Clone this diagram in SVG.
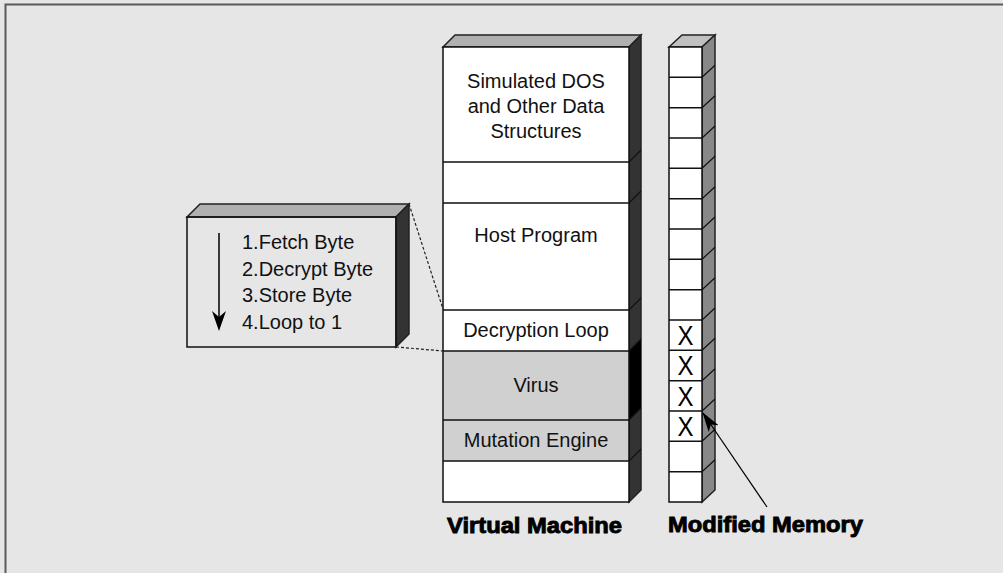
<svg xmlns="http://www.w3.org/2000/svg" width="1003" height="573" viewBox="0 0 1003 573">
<defs>
<style>
.t{font-family:"Liberation Sans",Arial,sans-serif;font-size:20px;fill:#111;text-anchor:middle}
.tl{font-family:"Liberation Sans",Arial,sans-serif;font-size:20px;fill:#111}
.b{font-family:"Liberation Sans",Arial,sans-serif;font-size:22px;font-weight:bold;fill:#000;stroke:#000;stroke-width:0.9}
.x{font-family:"Liberation Sans",Arial,sans-serif;font-size:27px;fill:#000;text-anchor:middle}
.edge{stroke:#111;stroke-width:1.5;fill:none}
.face{stroke:#222;stroke-width:1.5}
.dot{stroke:#222;stroke-width:1.2;stroke-dasharray:3,2;fill:none}
</style>
<marker id="ah" viewBox="0 0 20 12" refX="19" refY="6" markerWidth="20" markerHeight="12" markerUnits="userSpaceOnUse" orient="auto">
<path d="M0,0 L20,6 L0,12 L5,6 Z" fill="#000"/>
</marker>
</defs>
<rect x="0" y="0" width="1003" height="573" fill="#e6e6e6"/>
<path d="M5.5,573 L5.5,4.5 L1003,4.5" stroke="#5a5a5a" stroke-width="2" fill="none"/>

<g id="virtual-machine">
<polygon points="443,47 455,35 641,35 629,47" fill="#b0b0b0" class="face"/>
<polygon points="629,47 641,35 641,490 629,502" fill="#333" class="face"/>
<polygon points="629,351 641,339 641,408 629,420" fill="#000"/>
<rect x="443" y="47" width="186" height="304" fill="#fff"/>
<rect x="443" y="351" width="186" height="110" fill="#d0d0d0"/>
<rect x="443" y="461" width="186" height="41" fill="#fff"/>
<path class="edge" d="M443,162 H629 M443,203 H629 M443,310 H629 M443,351 H629 M443,420 H629 M443,461 H629"/>
<path d="M629,162 l12,-12 M629,203 l12,-12 M629,310 l12,-12 M629,351 l12,-12 M629,420 l12,-12 M629,461 l12,-12" stroke="#111" stroke-width="1.2"/>
<rect x="443" y="47" width="186" height="455" class="edge"/>
<text class="t" x="536" y="88">Simulated DOS</text>
<text class="t" x="536" y="113">and Other Data</text>
<text class="t" x="536" y="138">Structures</text>
<text class="t" x="536" y="242">Host Program</text>
<text class="t" x="536" y="337">Decryption Loop</text>
<text class="t" x="536" y="392">Virus</text>
<text class="t" x="536" y="447">Mutation Engine</text>
<text class="b" x="447" y="533" textLength="175" lengthAdjust="spacingAndGlyphs">Virtual Machine</text>
</g>

<g id="modified-memory">
<polygon points="669,47 682,35 715,35 702,47" fill="#c0c0c0" class="face"/>
<polygon points="702,47 715,35 715,490 702,502" fill="#888" class="face"/>
<rect x="669" y="47" width="33" height="455" fill="#fff"/>
<path class="edge" d="M669,77.3 H702 M669,107.7 H702 M669,138 H702 M669,168.3 H702 M669,198.7 H702 M669,229 H702 M669,259.3 H702 M669,289.7 H702 M669,320 H702 M669,350.3 H702 M669,380.7 H702 M669,411 H702 M669,441.3 H702 M669,471.7 H702"/>
<path d="M702,77.3 l13,-12 M702,107.7 l13,-12 M702,138 l13,-12 M702,168.3 l13,-12 M702,198.7 l13,-12 M702,229 l13,-12 M702,259.3 l13,-12 M702,289.7 l13,-12 M702,320 l13,-12 M702,350.3 l13,-12 M702,380.7 l13,-12 M702,411 l13,-12 M702,441.3 l13,-12 M702,471.7 l13,-12" stroke="#111" stroke-width="1.2"/>
<rect x="669" y="47" width="33" height="455" class="edge"/>
<text class="x" x="685.5" y="345" textLength="16" lengthAdjust="spacingAndGlyphs">X</text>
<text class="x" x="685.5" y="375.3" textLength="16" lengthAdjust="spacingAndGlyphs">X</text>
<text class="x" x="685.5" y="405.7" textLength="16" lengthAdjust="spacingAndGlyphs">X</text>
<text class="x" x="685.5" y="436" textLength="16" lengthAdjust="spacingAndGlyphs">X</text>
<text class="b" x="668" y="532" textLength="195" lengthAdjust="spacingAndGlyphs">Modified Memory</text>
</g>

<g id="decryption-steps">
<polygon points="187,217 200,204 409,204 396,217" fill="#b0b0b0" class="face"/>
<polygon points="396,217 409,204 409,334 396,347" fill="#333" class="face"/>
<rect x="187" y="217" width="209" height="130" fill="#fff" class="edge"/>
<line x1="219" y1="233" x2="219" y2="318" stroke="#000" stroke-width="1.5"/>
<polygon points="212,311 219,317 226,311 219,331" fill="#000"/>
<text class="tl" x="242" y="249">1.Fetch Byte</text>
<text class="tl" x="242" y="276">2.Decrypt Byte</text>
<text class="tl" x="242" y="302">3.Store Byte</text>
<text class="tl" x="242" y="329">4.Loop to 1</text>
</g>

<g id="connectors">
<line class="dot" x1="409" y1="204" x2="443" y2="309"/>
<line class="dot" x1="396" y1="347" x2="443" y2="351"/>
<line x1="767" y1="507" x2="703" y2="413" stroke="#000" stroke-width="1.2" marker-end="url(#ah)"/>
</g>
</svg>
